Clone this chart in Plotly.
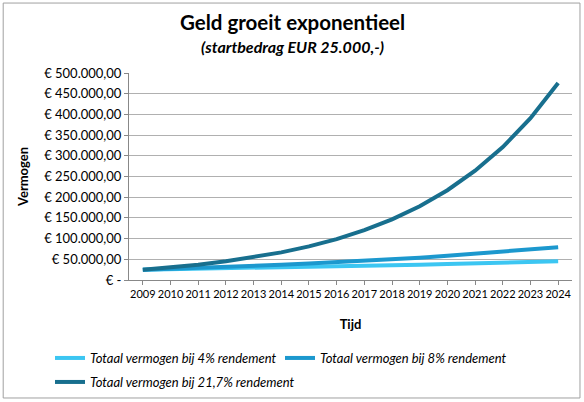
import plotly.graph_objects as go

jaren = [str(j) for j in range(2009, 2025)]

# totaal vermogen per jaar
vermogen_4 = [25000, 26000, 27040, 28122, 29246, 30416, 31633, 32898,
              34214, 35583, 37006, 38486, 40026, 41627, 43292, 45024]
vermogen_8 = [25000, 27000, 29160, 31493, 34012, 36733, 39672, 42846,
              46273, 49975, 53973, 58291, 62954, 67990, 73429, 79304]
vermogen_217 = [25000, 30425, 37027, 45062, 54840, 66740, 81223, 98848,
                120298, 146403, 178172, 216836, 263889, 321153, 390843, 475656]

y_ticks = [0, 50000, 100000, 150000, 200000, 250000, 300000, 350000, 400000, 450000, 500000]
y_labels = ['€ -', '€ 50.000,00', '€ 100.000,00', '€ 150.000,00', '€ 200.000,00',
            '€ 250.000,00', '€ 300.000,00', '€ 350.000,00', '€ 400.000,00',
            '€ 450.000,00', '€ 500.000,00']

font = 'Lato'

fig = go.Figure()
fig.add_trace(go.Scatter(x=jaren, y=vermogen_4, mode='lines', name='Totaal vermogen bij 4% rendement',
                         line=dict(color='#3CC6F2', width=4), legend='legend'))
fig.add_trace(go.Scatter(x=jaren, y=vermogen_8, mode='lines', name='Totaal vermogen bij 8% rendement',
                         line=dict(color='#1C98CE', width=4), legend='legend2'))
fig.add_trace(go.Scatter(x=jaren, y=vermogen_217, mode='lines', name='Totaal vermogen bij 21,7% rendement',
                         line=dict(color='#186F8E', width=4), legend='legend3'))

# elke legenda-regel apart, zoals in Excel: twee naast elkaar, de derde eronder
legend_stijl = dict(orientation='h', xref='container', yref='container', xanchor='left',
                    yanchor='middle', font=dict(size=13, style='italic'),
                    itemwidth=30, bgcolor='rgba(0,0,0,0)')

fig.update_layout(
    width=584, height=402,
    margin=dict(l=129, r=12, t=73, b=122),
    paper_bgcolor='white', plot_bgcolor='white',
    font=dict(family=font, color='black', size=12),
    xaxis=dict(type='category', range=[-0.5, 15.5], showline=True, linecolor='#888888',
               showgrid=False, ticks='outside', ticklen=4, tickcolor='#888888', tickangle=0,
               automargin=False, tickfont=dict(size=11),
               title=dict(text='<b>Tijd</b>', font=dict(size=13), standoff=20)),
    yaxis=dict(range=[0, 500000], tickvals=y_ticks, ticktext=y_labels, showline=True,
               linecolor='#888888', gridcolor='#B0B0B0', gridwidth=1, ticks='outside', ticklen=4,
               tickcolor='#888888', zeroline=False, tickfont=dict(size=13), automargin=False,
               title=dict(text='<b>Vermogen</b>', font=dict(size=13), standoff=12)),
    legend=dict(legend_stijl, x=50 / 584, y=1 - 358 / 402),
    legend2=dict(legend_stijl, x=280 / 584, y=1 - 358 / 402),
    legend3=dict(legend_stijl, x=50 / 584, y=1 - 382 / 402),
    showlegend=True,
)

fig.add_annotation(text='<b>Geld groeit exponentieel</b>', xref='paper', yref='paper',
                   x=0.368, y=1.246, xanchor='center', yanchor='middle', showarrow=False,
                   font=dict(size=20.5))
fig.add_annotation(text='<b><i>(startbedrag EUR 25.000,-)</i></b>', xref='paper', yref='paper',
                   x=0.368, y=1.13, xanchor='center', yanchor='middle', showarrow=False,
                   font=dict(size=16))

fig.add_shape(type='rect', xref='paper', yref='paper', x0=-0.284, x1=1.018, y0=-0.57, y1=1.338,
              line=dict(color='#A0A0A0', width=1))

# de pagina heeft standaard 8px marge, die weg zodat de figuur precies in het venster past
fig.write_html('out.html', config={'displayModeBar': False},
               post_script="document.body.style.margin='0';")
